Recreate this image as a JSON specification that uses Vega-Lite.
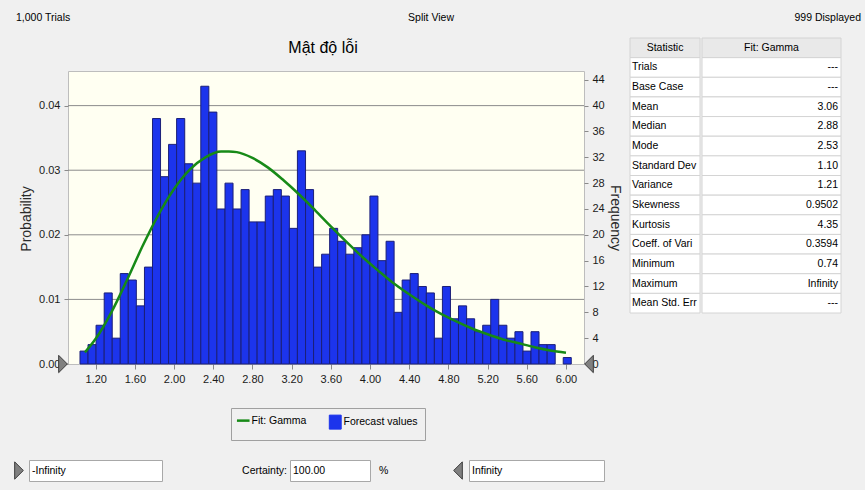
{
  "$schema": "https://vega.github.io/schema/vega-lite/v6.json",
  "background": "#f0f0f0",
  "padding": {"left": 12, "top": 12, "right": 7, "bottom": 9},
  "config": {
    "font": "Liberation Sans, Arial, sans-serif",
    "view": {"stroke": null},
    "axis": {
      "labelFont": "Liberation Sans, Arial, sans-serif",
      "titleFont": "Liberation Sans, Arial, sans-serif",
      "labelFontSize": 11, "labelColor": "#1a1a1a", "titleFontWeight": "normal", "titleColor": "#2a2a2a",
      "tickColor": "#8a8a8a", "domain": false, "labelOverlap": false
    },
    "legend": {"labelOverlap": false},
    "text": {"font": "Liberation Sans, Arial, sans-serif", "fontSize": 10.5, "color": "#000000"}
  },
  "datasets": {
    "bins": [
      {"lo": 1.040, "hi": 1.122, "count": 2},
      {"lo": 1.122, "hi": 1.204, "count": 3},
      {"lo": 1.204, "hi": 1.287, "count": 6},
      {"lo": 1.287, "hi": 1.369, "count": 11},
      {"lo": 1.369, "hi": 1.451, "count": 4},
      {"lo": 1.451, "hi": 1.533, "count": 14},
      {"lo": 1.533, "hi": 1.615, "count": 13},
      {"lo": 1.615, "hi": 1.698, "count": 9},
      {"lo": 1.698, "hi": 1.780, "count": 15},
      {"lo": 1.780, "hi": 1.862, "count": 38},
      {"lo": 1.862, "hi": 1.944, "count": 29},
      {"lo": 1.944, "hi": 2.026, "count": 34},
      {"lo": 2.026, "hi": 2.109, "count": 38},
      {"lo": 2.109, "hi": 2.191, "count": 31},
      {"lo": 2.191, "hi": 2.273, "count": 28},
      {"lo": 2.273, "hi": 2.355, "count": 43},
      {"lo": 2.355, "hi": 2.437, "count": 39},
      {"lo": 2.437, "hi": 2.520, "count": 24},
      {"lo": 2.520, "hi": 2.602, "count": 28},
      {"lo": 2.602, "hi": 2.684, "count": 24},
      {"lo": 2.684, "hi": 2.766, "count": 27},
      {"lo": 2.766, "hi": 2.848, "count": 22},
      {"lo": 2.848, "hi": 2.931, "count": 22},
      {"lo": 2.931, "hi": 3.013, "count": 26},
      {"lo": 3.013, "hi": 3.095, "count": 27},
      {"lo": 3.095, "hi": 3.177, "count": 26},
      {"lo": 3.177, "hi": 3.259, "count": 21},
      {"lo": 3.259, "hi": 3.342, "count": 33},
      {"lo": 3.342, "hi": 3.424, "count": 27},
      {"lo": 3.424, "hi": 3.506, "count": 15},
      {"lo": 3.506, "hi": 3.588, "count": 17},
      {"lo": 3.588, "hi": 3.670, "count": 21},
      {"lo": 3.670, "hi": 3.753, "count": 19},
      {"lo": 3.753, "hi": 3.835, "count": 17},
      {"lo": 3.835, "hi": 3.917, "count": 18},
      {"lo": 3.917, "hi": 3.999, "count": 20},
      {"lo": 3.999, "hi": 4.081, "count": 26},
      {"lo": 4.081, "hi": 4.164, "count": 16},
      {"lo": 4.164, "hi": 4.246, "count": 19},
      {"lo": 4.246, "hi": 4.328, "count": 8},
      {"lo": 4.328, "hi": 4.410, "count": 13},
      {"lo": 4.410, "hi": 4.492, "count": 14},
      {"lo": 4.492, "hi": 4.575, "count": 12},
      {"lo": 4.575, "hi": 4.657, "count": 11},
      {"lo": 4.657, "hi": 4.739, "count": 4},
      {"lo": 4.739, "hi": 4.821, "count": 12},
      {"lo": 4.821, "hi": 4.903, "count": 7},
      {"lo": 4.903, "hi": 4.986, "count": 9},
      {"lo": 4.986, "hi": 5.068, "count": 7},
      {"lo": 5.068, "hi": 5.150, "count": 5},
      {"lo": 5.150, "hi": 5.232, "count": 6},
      {"lo": 5.232, "hi": 5.314, "count": 10},
      {"lo": 5.314, "hi": 5.397, "count": 6},
      {"lo": 5.397, "hi": 5.479, "count": 4},
      {"lo": 5.479, "hi": 5.561, "count": 5},
      {"lo": 5.561, "hi": 5.643, "count": 2},
      {"lo": 5.643, "hi": 5.725, "count": 5},
      {"lo": 5.725, "hi": 5.808, "count": 3},
      {"lo": 5.808, "hi": 5.890, "count": 3},
      {"lo": 5.972, "hi": 6.054, "count": 1}
    ],
    "fit": [
      {"value": 1.09, "count": 1.8}, {"value": 1.20, "count": 3.9}, {"value": 1.36, "count": 8.0},
      {"value": 1.52, "count": 13.0}, {"value": 1.68, "count": 18.3}, {"value": 1.84, "count": 23.1},
      {"value": 2.00, "count": 27.1}, {"value": 2.16, "count": 30.1}, {"value": 2.32, "count": 32.0},
      {"value": 2.48, "count": 32.9}, {"value": 2.56, "count": 32.9}, {"value": 2.64, "count": 32.8},
      {"value": 2.80, "count": 31.9}, {"value": 2.96, "count": 30.4}, {"value": 3.12, "count": 28.4},
      {"value": 3.28, "count": 26.2}, {"value": 3.44, "count": 23.8}, {"value": 3.60, "count": 21.3},
      {"value": 3.76, "count": 18.9}, {"value": 3.92, "count": 16.6}, {"value": 4.08, "count": 14.5},
      {"value": 4.24, "count": 12.5}, {"value": 4.40, "count": 10.8}, {"value": 4.56, "count": 9.2},
      {"value": 4.72, "count": 7.8}, {"value": 4.88, "count": 6.6}, {"value": 5.04, "count": 5.5},
      {"value": 5.20, "count": 4.6}, {"value": 5.36, "count": 3.8}, {"value": 5.52, "count": 3.2},
      {"value": 5.68, "count": 2.6}, {"value": 5.84, "count": 2.1}, {"value": 6.00, "count": 1.75}
    ],
    "grid": [{"p": 0.01}, {"p": 0.02}, {"p": 0.03}, {"p": 0.04}],
    "stats": [
      {"stat": "Statistic", "fit": "Fit: Gamma", "part": "head"},
      {"stat": "Trials", "fit": "---", "part": "body"},
      {"stat": "Base Case", "fit": "---", "part": "body"},
      {"stat": "Mean", "fit": "3.06", "part": "body"},
      {"stat": "Median", "fit": "2.88", "part": "body"},
      {"stat": "Mode", "fit": "2.53", "part": "body"},
      {"stat": "Standard Dev", "fit": "1.10", "part": "body"},
      {"stat": "Variance", "fit": "1.21", "part": "body"},
      {"stat": "Skewness", "fit": "0.9502", "part": "body"},
      {"stat": "Kurtosis", "fit": "4.35", "part": "body"},
      {"stat": "Coeff. of Vari", "fit": "0.3594", "part": "body"},
      {"stat": "Minimum", "fit": "0.74", "part": "body"},
      {"stat": "Maximum", "fit": "Infinity", "part": "body"},
      {"stat": "Mean Std. Err", "fit": "---", "part": "body"}
    ],
    "header": [{"trials": "1,000 Trials", "mode": "Split View", "shown": "999 Displayed"}],
    "bounds": [{"lower": "-Infinity", "certainty": "100.00", "upper": "Infinity"}]
  },
  "spacing": 13,
  "vconcat": [
    {
      "width": 846, "height": 12,
      "data": {"name": "header"},
      "layer": [
        {"mark": {"type": "text", "align": "left"},
         "encoding": {"x": {"datum": 0, "type": "quantitative", "scale": {"domain": [0, 1]}, "axis": null}, "text": {"field": "trials"}}},
        {"mark": {"type": "text", "align": "center", "dx": -8},
         "encoding": {"x": {"datum": 0.5, "type": "quantitative"}, "text": {"field": "mode"}}},
        {"mark": {"type": "text", "align": "right", "dx": -1},
         "encoding": {"x": {"datum": 1, "type": "quantitative"}, "text": {"field": "shown"}}}
      ]
    },
    {
      "spacing": 59,
      "vconcat": [
        {
          "spacing": 7,
          "hconcat": [
            {
              "spacing": 0,
              "hconcat": [
                {
                  "width": 22, "height": 362,
                  "data": {"values": [{"axis": "Probability"}]},
                  "mark": {"type": "text", "angle": 270, "fontSize": 14, "color": "#2a2a2a"},
                  "encoding": {"text": {"field": "axis"}}
                },
                {
                  "spacing": 12,
                  "vconcat": [
                    {
                      "width": 516, "height": 20,
                      "data": {"values": [{"title": "Mật độ lỗi"}]},
                      "mark": {"type": "text", "fontSize": 16, "color": "#000000", "dx": -3},
                      "encoding": {"text": {"field": "title"}}
                    },
                    {
                      "width": 516, "height": 293,
                      "view": {"fill": "#fffff2", "stroke": "#bdbdbd"},
                      "layer": [
                        {
                          "layer": [
                            {
                              "data": {"name": "grid"},
                              "mark": {"type": "rule", "color": "#8c8c8c", "strokeWidth": 1},
                              "encoding": {
                                "y": {"field": "p", "type": "quantitative", "scale": {"domain": [0, 0.04536], "nice": false},
                                  "axis": {"values": [0, 0.01, 0.02, 0.03, 0.04], "format": ".2f", "title": null,
                                    "tickSize": 4, "labelPadding": 4, "grid": false}}
                              }
                            },
                            {
                              "data": {"name": "bounds"},
                              "mark": {"type": "point", "shape": "M-0.5,-1L0.5,0L-0.5,1Z", "size": 300, "filled": true, "fill": "#808080", "stroke": "#3c3c3c", "strokeWidth": 1, "opacity": 1, "xOffset": -5, "clip": false},
                              "encoding": {"x": {"datum": 0.9176, "type": "quantitative"}, "y": {"datum": 0, "type": "quantitative"}}
                            },
                            {
                              "data": {"name": "bounds"},
                              "mark": {"type": "point", "shape": "M0.5,-1L-0.5,0L0.5,1Z", "size": 300, "filled": true, "fill": "#808080", "stroke": "#3c3c3c", "strokeWidth": 1, "opacity": 1, "xOffset": 5, "clip": false},
                              "encoding": {"x": {"datum": 6.184, "type": "quantitative"}, "y": {"datum": 0, "type": "quantitative"}}
                            }
                          ]
                        },
                        {
                          "layer": [
                            {
                              "data": {"name": "bins"},
                              "mark": {"type": "bar", "stroke": "#1b1f78", "strokeWidth": 1},
                              "encoding": {
                                "x": {"field": "lo", "type": "quantitative", "title": null,
                                  "scale": {"domain": [0.9176, 6.184], "nice": false, "zero": false},
                                  "axis": {"values": [1.2, 1.6, 2.0, 2.4, 2.8, 3.2, 3.6, 4.0, 4.4, 4.8, 5.2, 5.6, 6.0], "format": ".2f",
                                    "tickSize": 5, "labelPadding": 4, "grid": false}},
                                "x2": {"field": "hi"},
                                "y": {"field": "count", "type": "quantitative", "title": "Frequency",
                                  "scale": {"domain": [0, 45.36], "nice": false},
                                  "axis": {"orient": "right", "values": [0, 4, 8, 12, 16, 20, 24, 28, 32, 36, 40, 44], "titleFontSize": 14,
                                    "titleAngle": 90, "titlePadding": 3, "tickSize": 4, "labelPadding": 4, "grid": false, "labelOverlap": false}},
                                "y2": {"datum": 0},
                                "color": {"datum": "Forecast values", "type": "nominal",
                                  "scale": {"domain": ["Fit: Gamma", "Forecast values"], "range": ["#178a17", "#1c34ec"]},
                                  "legend": {
                                    "orient": "none", "legendX": 215, "legendY": 396, "direction": "horizontal", "title": null,
                                    "strokeColor": "#a0a0a0", "fillColor": "#f0f0f0", "padding": 7,
                                    "labelFontSize": 10.5, "labelColor": "#000000", "labelOffset": 3, "columnPadding": 20,
                                    "symbolSize": 196,
                                    "symbolType": {"expr": "datum.value === 'Fit: Gamma' ? 'M-0.9,-1M-0.9,0L0.9,0M0.9,1' : 'M-0.85,-1H0.85V1H-0.85Z'"},
                                    "symbolStrokeWidth": {"expr": "datum.value === 'Fit: Gamma' ? 2.5 : 1"}
                                  }}
                              }
                            },
                            {
                              "data": {"name": "fit"},
                              "mark": {"type": "line", "strokeWidth": 2.5, "interpolate": "monotone"},
                              "encoding": {
                                "x": {"field": "value", "type": "quantitative", "title": null},
                                "y": {"field": "count", "type": "quantitative", "title": "Frequency",
                                  "axis": {"orient": "right", "values": [0, 4, 8, 12, 16, 20, 24, 28, 32, 36, 40, 44], "titleFontSize": 14,
                                    "titleAngle": 90, "titlePadding": 3, "tickSize": 4, "labelPadding": 4, "grid": false, "labelOverlap": false}},
                                "color": {"datum": "Fit: Gamma", "type": "nominal"}
                              }
                            }
                          ]
                        }
                      ],
                      "resolve": {"scale": {"y": "independent"}, "axis": {"y": "independent"}}
                    }
                  ]
                }
              ]
            },
            {
              "spacing": 0,
              "hconcat": [
                {
                  "width": 70, "height": 275,
                  "data": {"name": "stats"},
                  "encoding": {"y": {"field": "stat", "type": "nominal", "sort": null, "scale": {"type": "band", "paddingInner": 0, "paddingOuter": 0}, "axis": null}},
                  "layer": [
                    {"mark": {"type": "rect", "stroke": "#d4d4d4", "strokeWidth": 1},
                     "encoding": {"fill": {"condition": {"test": "datum.part === 'head'", "value": "#e9e9e9"}, "value": "#ffffff"}}},
                    {"transform": [{"filter": "datum.part === 'body'"}],
                     "mark": {"type": "text", "align": "left", "dx": 2},
                     "encoding": {"x": {"datum": 0, "type": "quantitative", "scale": {"domain": [0, 1]}, "axis": null}, "text": {"field": "stat"}}},
                    {"transform": [{"filter": "datum.part === 'head'"}],
                     "mark": {"type": "text", "align": "center"},
                     "encoding": {"text": {"field": "stat"}}}
                  ]
                },
                {
                  "width": 139, "height": 275,
                  "data": {"name": "stats"},
                  "encoding": {"y": {"field": "stat", "type": "nominal", "sort": null, "scale": {"type": "band", "paddingInner": 0, "paddingOuter": 0}, "axis": null}},
                  "layer": [
                    {"mark": {"type": "rect", "stroke": "#d4d4d4", "strokeWidth": 1},
                     "encoding": {"fill": {"condition": {"test": "datum.part === 'head'", "value": "#e9e9e9"}, "value": "#ffffff"}}},
                    {"transform": [{"filter": "datum.part === 'body'"}],
                     "mark": {"type": "text", "align": "right", "dx": -3},
                     "encoding": {"x": {"datum": 1, "type": "quantitative", "scale": {"domain": [0, 1]}, "axis": null}, "text": {"field": "fit"}}},
                    {"transform": [{"filter": "datum.part === 'head'"}],
                     "mark": {"type": "text", "align": "center"},
                     "encoding": {"text": {"field": "fit"}}}
                  ]
                }
              ]
            }
          ]
        },
        {
          "spacing": 0,
          "hconcat": [
            {
              "width": 12, "height": 21,
              "data": {"name": "bounds"},
              "mark": {"type": "point", "shape": "M-0.5,-1L0.5,0L-0.5,1Z", "size": 300, "filled": true, "fill": "#808080", "stroke": "#3c3c3c", "strokeWidth": 1, "opacity": 1, "xOffset": -3},
              "encoding": {}
            },
            {
              "width": 133, "height": 21,
              "view": {"fill": "#ffffff", "stroke": "#a8a8a8"},
              "data": {"name": "bounds"},
              "mark": {"type": "text", "align": "left", "dx": 3},
              "encoding": {"x": {"datum": 0, "type": "quantitative", "scale": {"domain": [0, 1]}, "axis": null}, "text": {"field": "lower"}}
            },
            {
              "width": 126, "height": 21,
              "data": {"name": "bounds"},
              "mark": {"type": "text", "align": "right", "dx": -2, "text": "Certainty:"},
              "encoding": {"x": {"datum": 1, "type": "quantitative", "scale": {"domain": [0, 1]}, "axis": null}}
            },
            {
              "width": 80, "height": 21,
              "view": {"fill": "#ffffff", "stroke": "#a8a8a8"},
              "data": {"name": "bounds"},
              "mark": {"type": "text", "align": "left", "dx": 3},
              "encoding": {"x": {"datum": 0, "type": "quantitative", "scale": {"domain": [0, 1]}, "axis": null}, "text": {"field": "certainty"}}
            },
            {
              "width": 97, "height": 21,
              "data": {"name": "bounds"},
              "layer": [
                {"mark": {"type": "text", "align": "left", "dx": 8, "text": "%"},
                 "encoding": {"x": {"datum": 0, "type": "quantitative", "scale": {"domain": [0, 1]}, "axis": null}}},
                {"mark": {"type": "point", "shape": "M0.5,-1L-0.5,0L0.5,1Z", "size": 300, "filled": true, "fill": "#808080", "stroke": "#3c3c3c", "strokeWidth": 1, "opacity": 1, "xOffset": -10},
                 "encoding": {"x": {"datum": 1, "type": "quantitative"}}}
              ]
            },
            {
              "width": 135, "height": 21,
              "view": {"fill": "#ffffff", "stroke": "#a8a8a8"},
              "data": {"name": "bounds"},
              "mark": {"type": "text", "align": "left", "dx": 3},
              "encoding": {"x": {"datum": 0, "type": "quantitative", "scale": {"domain": [0, 1]}, "axis": null}, "text": {"field": "upper"}}
            }
          ]
        }
      ]
    }
  ]
}
